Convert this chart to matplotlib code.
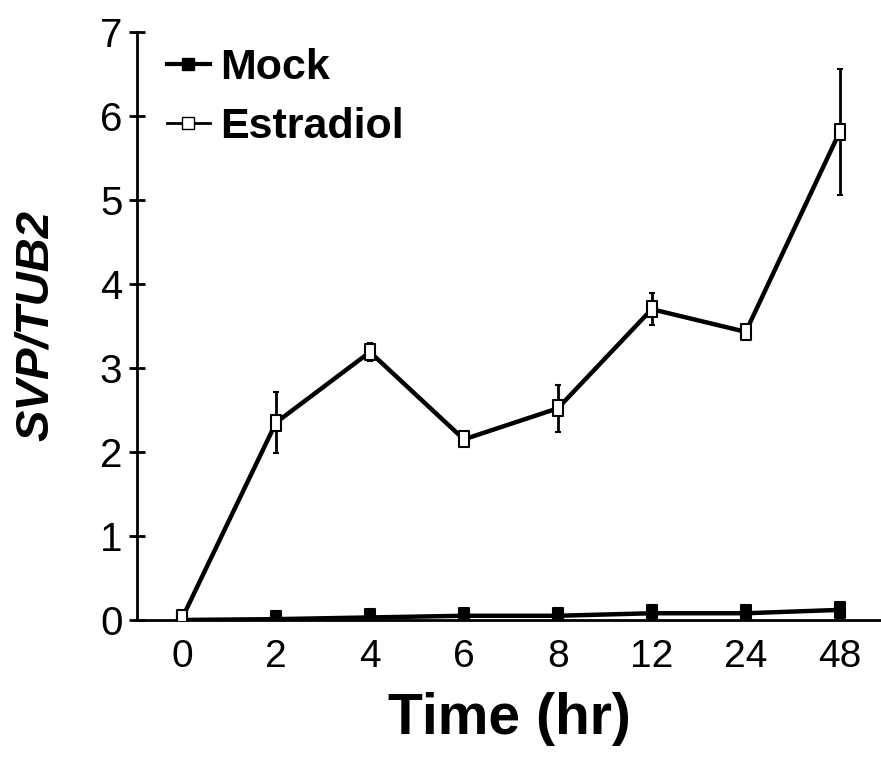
import matplotlib
matplotlib.use("Agg")
import matplotlib.pyplot as plt
import numpy as np
from matplotlib.path import Path
from matplotlib.lines import Line2D

# time points (hr), plotted as evenly spaced categories
times = ["0", "2", "4", "6", "8", "12", "24", "48"]

mock = [0.00, 0.01, 0.03, 0.05, 0.05, 0.08, 0.08, 0.12]
mock_err = [0.00, 0.02, 0.03, 0.03, 0.03, 0.03, 0.03, 0.05]

estradiol = [0.02, 2.35, 3.19, 2.15, 2.52, 3.70, 3.43, 5.81]
estradiol_err = [0.00, 0.36, 0.11, 0.03, 0.28, 0.19, 0.04, 0.75]

x = np.arange(len(times))

# tall rectangle marker
rect = Path([(-0.6, -1), (0.6, -1), (0.6, 1), (-0.6, 1), (-0.6, -1)],
            [Path.MOVETO, Path.LINETO, Path.LINETO, Path.LINETO, Path.CLOSEPOLY])

plt.rcParams['font.family'] = ['Liberation Sans', 'DejaVu Sans']

fig = plt.figure(figsize=(8.81, 7.69), dpi=100)
ax = fig.add_axes([0.1555, 0.1938, 0.8445, 0.7646])

ax.errorbar(x, mock, yerr=mock_err, color='black', lw=3.2, marker=rect,
            markersize=12, mfc='black', mec='black', mew=1.5,
            elinewidth=2, capsize=2, capthick=3, zorder=3)
ax.errorbar(x, estradiol, yerr=estradiol_err, color='black', lw=3.2, marker=rect,
            markersize=12, mfc='white', mec='black', mew=1.5,
            elinewidth=2, capsize=2, capthick=3, zorder=4)

ax.set_xlim(-0.48, 7.44)
ax.set_ylim(0, 7)
ax.set_xticks(x)
ax.set_xticklabels(times, family=['Liberation Sans Narrow', 'Liberation Sans'])
ax.set_yticks(range(8))

for s in ['top', 'right']:
    ax.spines[s].set_visible(False)
ax.spines['left'].set_linewidth(2)
ax.spines['bottom'].set_linewidth(2)

ax.tick_params(axis='y', direction='inout', length=11, width=2, labelsize=29, pad=5)
ax.tick_params(axis='x', length=0, labelsize=28, pad=14)

ax.set_ylabel('SVP/TUB2', fontsize=34, fontweight='bold', style='italic', labelpad=30)
ax.set_xlabel('Time (hr)', fontsize=41, fontweight='bold', labelpad=12)

# legend handles without error bars
handles = [
    Line2D([], [], color='black', lw=3, marker='s', markersize=9, mfc='black', mec='black'),
    Line2D([], [], color='black', lw=2, marker='s', markersize=9, mfc='white', mec='black'),
]
ax.legend(handles, ['Mock', 'Estradiol'], loc='upper left',
          bbox_to_anchor=(0.005, 1.017), frameon=False,
          prop={'size': 31, 'weight': 'bold'}, handlelength=1.0,
          handletextpad=0.25, labelspacing=0.45, borderaxespad=0.2)

fig.savefig('out.png', dpi=100)
